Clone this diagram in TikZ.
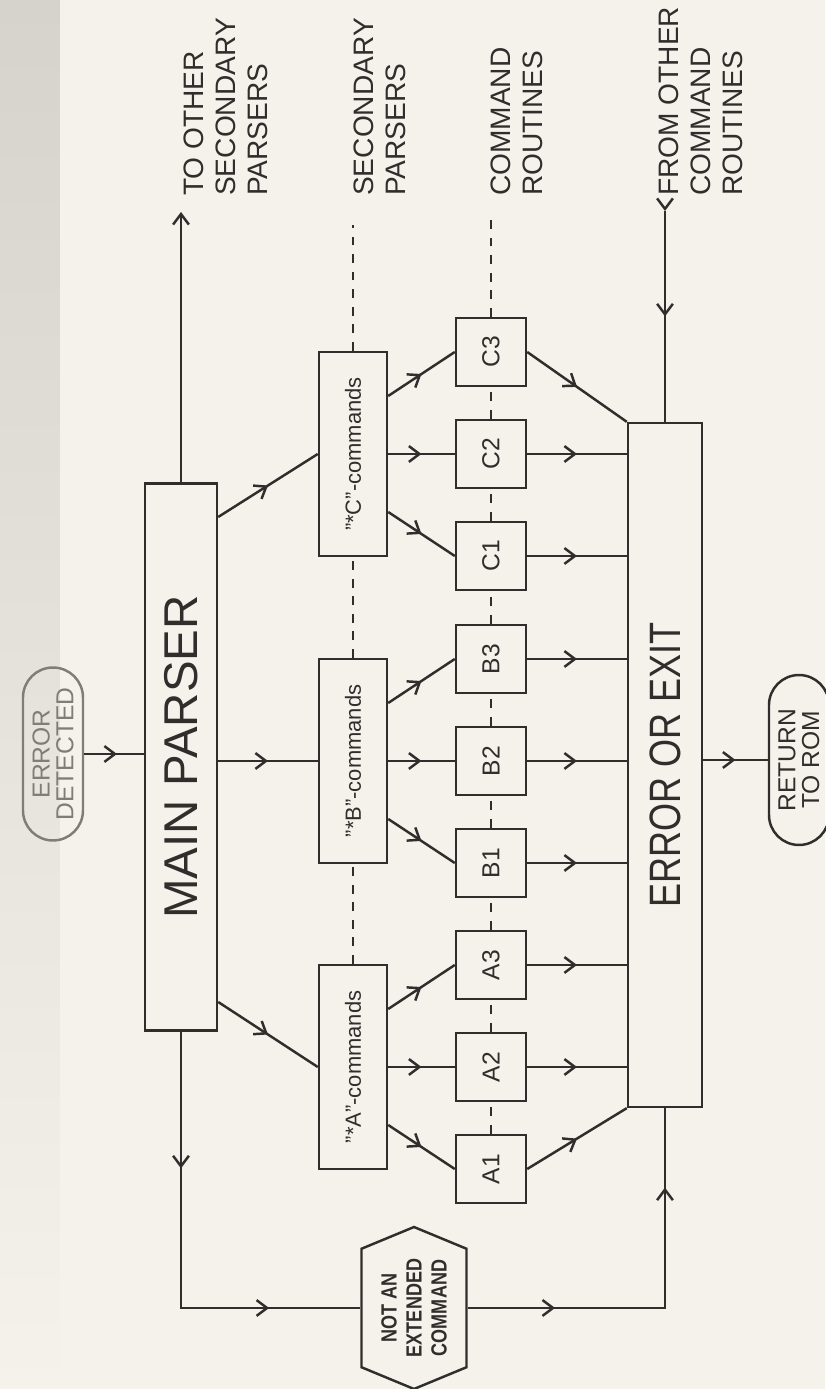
\documentclass[tikz,border=0pt]{standalone}
\usepackage{fontspec}
\setmainfont{Liberation Sans}
\newfontfamily\narrowfont[FakeStretch=0.82]{Liberation Sans}
\usetikzlibrary{arrows.meta,calc,decorations.markings,shapes.symbols}
\definecolor{paper}{RGB}{245,242,236}
\definecolor{scanedge}{RGB}{214,210,204}
\definecolor{ink}{RGB}{48,46,44}
\definecolor{faded}{RGB}{128,125,121}

\begin{document}
\begin{tikzpicture}[x=0.02cm, y=0.02cm, color=ink, line width=1.4pt, every node/.style={inner sep=0pt}]
\tikzset{barb/.tip={Straight Barb[length=6pt,width=9pt]}}
\tikzset{box/.style={draw, align=center}}
\tikzset{cmdbox/.style={box, minimum width=4.08cm, minimum height=1.36cm, font=\fontsize{12.5}{14}\selectfont}}
\tikzset{routine/.style={box, minimum width=1.36cm, minimum height=1.4cm, font=\fontsize{14}{16}\selectfont}}
\tikzset{terminal/.style={box, rounded corners=0.6cm, minimum width=3.4cm, minimum height=1.2cm, font=\fontsize{14}{13.5}\selectfont}}
\tikzset{note/.style={align=left, anchor=north west, font=\fontsize{16}{18.2}\selectfont}}
\tikzset{flow/.style={postaction={decorate}, decoration={markings, mark=at position #1 with {\arrow{barb}}}}, flow/.default=0.5}
\tikzset{flowtwo/.style 2 args={postaction={decorate}, decoration={markings, mark=at position #1 with {\arrow{barb}}, mark=at position #2 with {\arrow{barb}}}}}
\tikzset{link/.style={line width=1.2pt, dash pattern=on 5pt off 5pt}}
\begin{scope}[rotate=90, transform shape]
\useasboundingbox (0,0) rectangle (1389,825);
\fill[paper] (0,0) rectangle (1389,825);
\shade[top color=scanedge, bottom color=paper] (0,765) rectangle (1389,825);

\node[terminal, draw=faded, text=faded, minimum width=3.46cm] (det) at (635,772) {ERROR\\DETECTED};
\node[box, minimum width=10.94cm, minimum height=1.44cm, font=\fontsize{27}{30}\selectfont] (mp) at (632,644) {MAIN PARSER};
\node[cmdbox] (acmd) at (322,472) {"*A"-commands};
\node[cmdbox] (bcmd) at (628,472) {"*B"-commands};
\node[cmdbox] (ccmd) at (935,472) {"*C"-commands};
\node[routine] (a1) at (220,334) {A1};
\node[routine] (a2) at (322,334) {A2};
\node[routine] (a3) at (424,334) {A3};
\node[routine] (b1) at (526,334) {B1};
\node[routine] (b2) at (628,334) {B2};
\node[routine] (b3) at (730,334) {B3};
\node[routine] (c1) at (833,334) {C1};
\node[routine] (c2) at (935,334) {C2};
\node[routine] (c3) at (1037,334) {C3};
\node[box, minimum width=13.68cm, minimum height=1.48cm, font=\narrowfont\fontsize{25}{28}\selectfont] (err) at (624,160) {ERROR OR EXIT};
\node[terminal] (ret) at (629,26) {RETURN\\TO ROM};
\node[box, signal, signal to=east and west, signal pointer angle=135, minimum width=3.24cm, minimum height=2.1cm, font=\narrowfont\bfseries\fontsize{12.5}{14.2}\selectfont] (notext) at (81,411) {NOT AN\\EXTENDED\\COMMAND};
\node[note] (toother) at (1192,642) {TO OTHER\\SECONDARY\\PARSERS};
\node[note] (secpar) at (1192,472) {SECONDARY\\PARSERS};
\node[note] (cmdrout) at (1192,335) {COMMAND\\ROUTINES};
\node[note] (fromother) at (1192,167) {FROM OTHER\\COMMAND\\ROUTINES};

\draw[flow=0.55] (det.south) -- (det.south |- mp.north);
\draw[-{barb}] (mp.east) -- ($(mp.east -| toother.west)+(-15,0)$);
\draw[flow] ($(mp.south)+(-245,0)$) -- (acmd.north);
\draw[flow] (bcmd.north |- mp.south) -- (bcmd.north);
\draw[flow] ($(mp.south)+(240,0)$) -- (ccmd.north);
\draw[flowtwo={0.30}{0.80}] (mp.west) -| (notext.north);
\draw[flowtwo={0.22}{0.80}] (notext.south) |- (err.west);

\draw[flow] ($(acmd.south)+(-58,0)$) -- (a1.north);
\draw[flow] (acmd.south) -- (a2.north);
\draw[flow] ($(acmd.south)+(58,0)$) -- (a3.north);
\draw[flow] ($(bcmd.south)+(-58,0)$) -- (b1.north);
\draw[flow] (bcmd.south) -- (b2.north);
\draw[flow] ($(bcmd.south)+(58,0)$) -- (b3.north);
\draw[flow] ($(ccmd.south)+(-58,0)$) -- (c1.north);
\draw[flow] (ccmd.south) -- (c2.north);
\draw[flow] ($(ccmd.south)+(58,0)$) -- (c3.north);

\draw[flow] (a1.south) -- (err.north west);
\draw[flow] (a2.south) -- (a2.south |- err.north);
\draw[flow] (a3.south) -- (a3.south |- err.north);
\draw[flow] (b1.south) -- (b1.south |- err.north);
\draw[flow] (b2.south) -- (b2.south |- err.north);
\draw[flow] (b3.south) -- (b3.south |- err.north);
\draw[flow] (c1.south) -- (c1.south |- err.north);
\draw[flow] (c2.south) -- (c2.south |- err.north);
\draw[flow] (c3.south) -- (err.north east);
\draw[flowtwo={0}{0.5}] ($(err.east -| fromother.west)+(-14,0)$) -- (err.east);
\draw[flow] (ret.north |- err.south) -- (ret.north);

\draw[link] (acmd.east) -- (bcmd.west);
\draw[link] (bcmd.east) -- (ccmd.west);
\draw[link] (ccmd.east) -- ($(ccmd.east -| secpar.west)+(-28,0)$);
\draw[link] (a1.east) -- (a2.west);
\draw[link] (a2.east) -- (a3.west);
\draw[link] (a3.east) -- (b1.west);
\draw[link] (b1.east) -- (b2.west);
\draw[link] (b2.east) -- (b3.west);
\draw[link] (b3.east) -- (c1.west);
\draw[link] (c1.east) -- (c2.west);
\draw[link] (c2.east) -- (c3.west);
\draw[link] (c3.east) -- ($(c3.east -| cmdrout.west)+(-23,0)$);
\end{scope}
\end{tikzpicture}
\end{document}
